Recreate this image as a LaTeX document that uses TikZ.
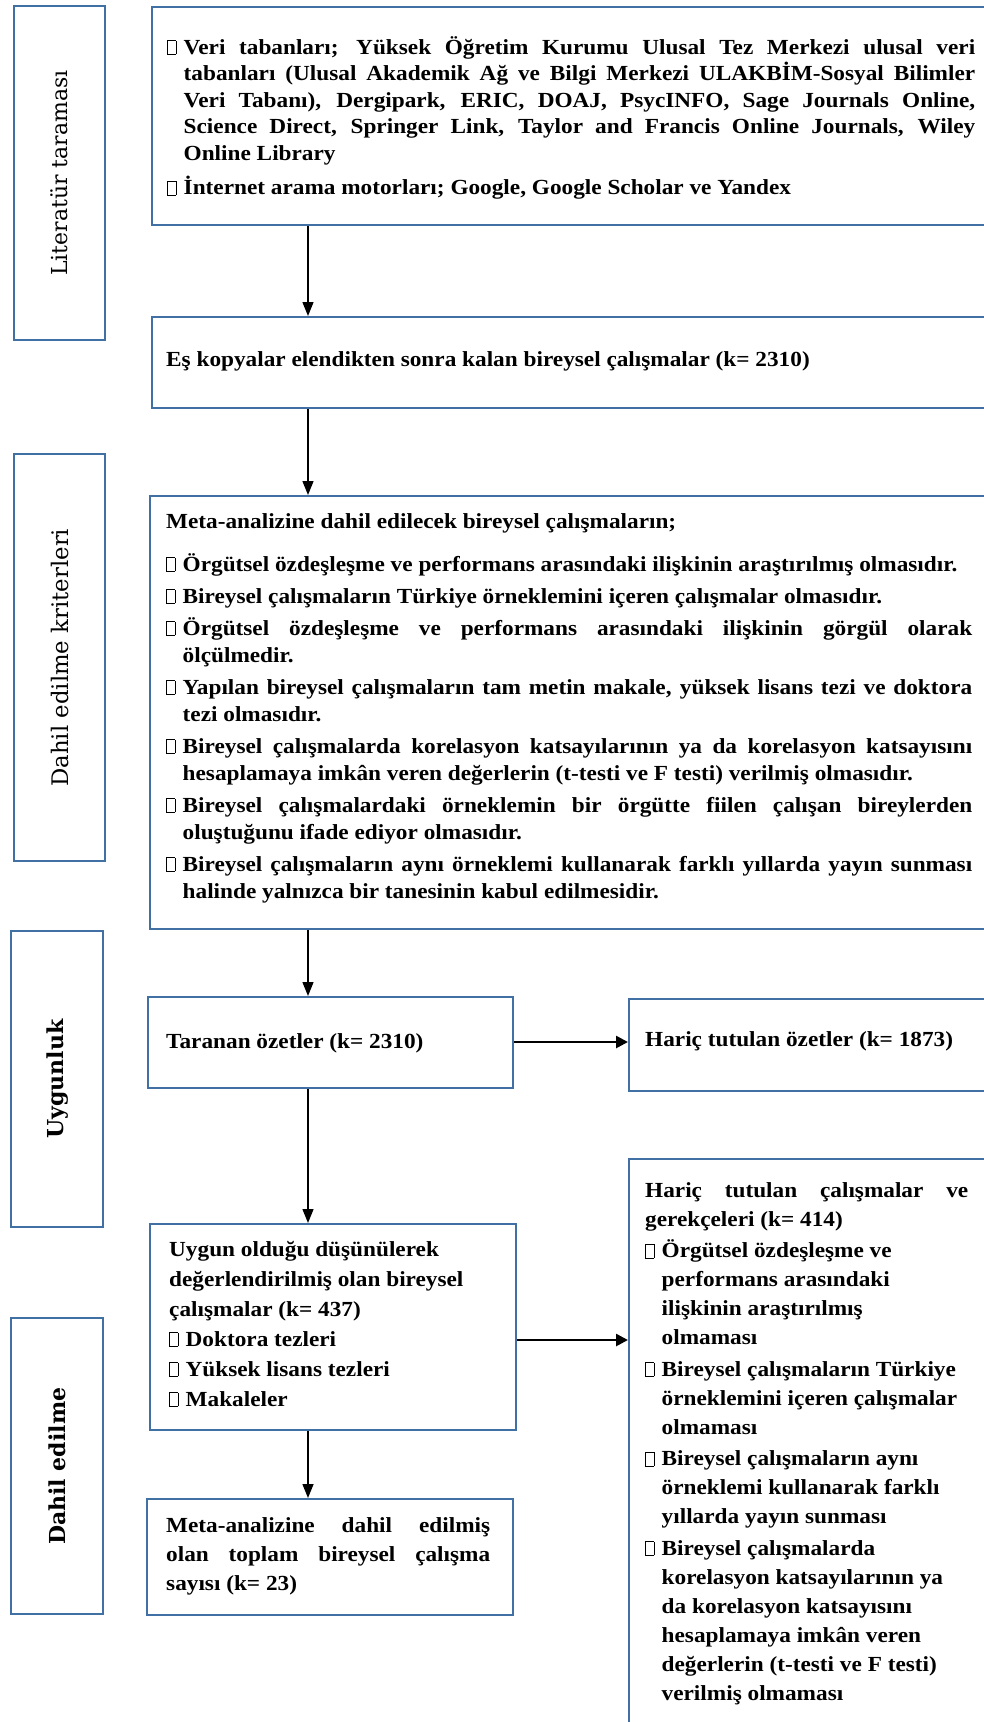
\documentclass[tikz,border=0pt]{standalone}
\usepackage{fontspec}
\setmainfont{Liberation Serif}
\newfontfamily\tb{Liberation Serif}[FakeStretch=1.082]
\newfontfamily\labf{DejaVu Serif}
\usetikzlibrary{arrows.meta}
\definecolor{bd}{RGB}{65,112,165}
\newcommand{\bx}{\makebox[16.5pt][l]{\setlength{\fboxsep}{0pt}\setlength{\fboxrule}{0.8pt}\fbox{\rule{0pt}{13pt}\rule{7.5pt}{0pt}}}}
\newcommand{\itm}{\par\hangindent=16.5pt\hangafter=1\noindent\bx}
\newcommand{\mtxt}[2]{\tb\bfseries\fontsize{21.5}{#1}\selectfont\setlength{\parskip}{#2}\hyphenpenalty=10000\exhyphenpenalty=10000\relax}
\begin{document}
\begin{tikzpicture}[x=1pt,y=-1pt,
  box/.style={draw=bd, line width=2.4pt, inner sep=0pt, anchor=north west},
  txt/.style={inner sep=0pt, anchor=base west},
  varr/.style={line width=1.4pt, -{Triangle[width=11pt,length=14pt]}},
  harr/.style={line width=2.6pt, -{Triangle[width=12pt,length=12pt]}},
  labtxt/.style={rotate=90, inner sep=0pt, font=\labf\fontsize{22}{26}\selectfont}]
\useasboundingbox (0,0) rectangle (984,1722);
\clip (0,0) rectangle (984,1722);
% left stage boxes
\node[box, minimum width=91pt, minimum height=334pt] (l1) at (13,5) {};
\node[box, minimum width=91pt, minimum height=407pt] (l2) at (13,453) {};
\node[box, minimum width=92pt, minimum height=296pt] (l3) at (10,930) {};
\node[box, minimum width=92pt, minimum height=296pt] (l4) at (10,1317) {};
\node[labtxt] (l1t) at (l1.center) {Literatür taraması};
\node[labtxt, font=\labf\fontsize{22.8}{26}\selectfont] (l2t) at (l2.center) {Dahil edilme kriterleri};
\node[labtxt] (l3t) at (l3.center) {\bfseries Uygunluk};
\node[labtxt] (l4t) at (l4.center) {\bfseries Dahil edilme};
% main boxes
\node[box, minimum width=849pt, minimum height=218pt] (b1) at (151,6) {};
\node[box, minimum width=849pt, minimum height=91pt] (b2) at (151,316) {};
\node[box, minimum width=851pt, minimum height=433pt] (b3) at (149,495) {};
\node[box, minimum width=365pt, minimum height=91pt] (b4) at (147,996) {};
\node[box, minimum width=372pt, minimum height=92pt] (b5) at (628,998) {};
\node[box, minimum width=366pt, minimum height=206pt] (b6) at (149,1223) {};
\node[box, minimum width=372pt, minimum height=600pt] (b7) at (628,1158) {};
\node[box, minimum width=366pt, minimum height=116pt] (b8) at (146,1498) {};
% texts
\node[txt] (t1) at (167,54) {\parbox[t]{808pt}{\mtxt{26.5pt}{8pt}%
\hangindent=16.5pt\hangafter=1\noindent\bx Veri tabanları; Yüksek Öğretim Kurumu Ulusal Tez Merkezi ulusal veri \linebreak tabanları (Ulusal Akademik Ağ ve Bilgi Merkezi ULAKBİM-Sosyal Bilimler \linebreak Veri Tabanı), Dergipark, ERIC, DOAJ, PsycINFO, Sage Journals Online, \linebreak Science Direct, Springer Link, Taylor and Francis Online Journals, Wiley \linebreak Online Library
\itm İnternet arama motorları; Google, Google Scholar ve Yandex}};
\node[txt] (t2) at (166,366) {\mtxt{26pt}{0pt}Eş kopyalar elendikten sonra kalan bireysel çalışmalar (k= 2310)};
\node[txt] (t3) at (166,528) {\parbox[t]{806pt}{\mtxt{27pt}{5pt}%
Meta-analizine dahil edilecek bireysel çalışmaların;\par\vspace{11pt}%
\hangindent=16.5pt\hangafter=1\noindent\bx Örgütsel özdeşleşme ve performans arasındaki ilişkinin araştırılmış olmasıdır.
\itm Bireysel çalışmaların Türkiye örneklemini içeren çalışmalar olmasıdır.
\itm Örgütsel özdeşleşme ve performans arasındaki ilişkinin görgül olarak \linebreak ölçülmedir.
\itm Yapılan bireysel çalışmaların tam metin makale, yüksek lisans tezi ve doktora \linebreak tezi olmasıdır.
\itm Bireysel çalışmalarda korelasyon katsayılarının ya da korelasyon katsayısını \linebreak hesaplamaya imkân veren değerlerin (t-testi ve F testi) verilmiş olmasıdır.
\itm Bireysel çalışmalardaki örneklemin bir örgütte fiilen çalışan bireylerden \linebreak oluştuğunu ifade ediyor olmasıdır.
\itm Bireysel çalışmaların aynı örneklemi kullanarak farklı yıllarda yayın sunması \linebreak halinde yalnızca bir tanesinin kabul edilmesidir.}};
\node[txt] (t4) at (166,1048) {\mtxt{26pt}{0pt}Taranan özetler (k= 2310)};
\node[txt] (t5) at (645,1046) {\mtxt{26pt}{0pt}Hariç tutulan özetler (k= 1873)};
\node[txt] (t6) at (169,1256) {\parbox[t]{330pt}{\mtxt{30pt}{0pt}%
Uygun olduğu düşünülerek\\ değerlendirilmiş olan bireysel\\ çalışmalar (k= 437)
\itm Doktora tezleri
\itm Yüksek lisans tezleri
\itm Makaleler}};
\node[txt] (t7) at (645,1197) {\parbox[t]{323pt}{\mtxt{29pt}{2.5pt}%
Hariç tutulan çalışmalar ve \linebreak gerekçeleri (k= 414)
\itm Örgütsel özdeşleşme ve\\ performans arasındaki\\ ilişkinin araştırılmış\\ olmaması
\itm Bireysel çalışmaların Türkiye\\ örneklemini içeren çalışmalar\\ olmaması
\itm Bireysel çalışmaların aynı\\ örneklemi kullanarak farklı\\ yıllarda yayın sunması
\itm Bireysel çalışmalarda\\ korelasyon katsayılarının ya\\ da korelasyon katsayısını\\ hesaplamaya imkân veren\\ değerlerin (t-testi ve F testi)\\ verilmiş olmaması}};
\node[txt] (t8) at (166,1532) {\parbox[t]{324pt}{\mtxt{29pt}{0pt}%
Meta-analizine dahil edilmiş \linebreak olan toplam bireysel çalışma \linebreak sayısı (k= 23)}};
% connectors
\coordinate (ax) at (308,0);
\coordinate (h1) at (0,1042);
\coordinate (h2) at (0,1340);
\draw[varr] (b1.south -| ax) -- (b2.north -| ax);
\draw[varr] (b2.south -| ax) -- (b3.north -| ax);
\draw[varr] (b3.south -| ax) -- (b4.north -| ax);
\draw[varr] (b4.south -| ax) -- (b6.north -| ax);
\draw[varr] (b6.south -| ax) -- (b8.north -| ax);
\draw[harr] (b4.east |- h1) -- (b5.west |- h1);
\draw[harr] (b6.east |- h2) -- (b7.west |- h2);
\end{tikzpicture}
\end{document}
